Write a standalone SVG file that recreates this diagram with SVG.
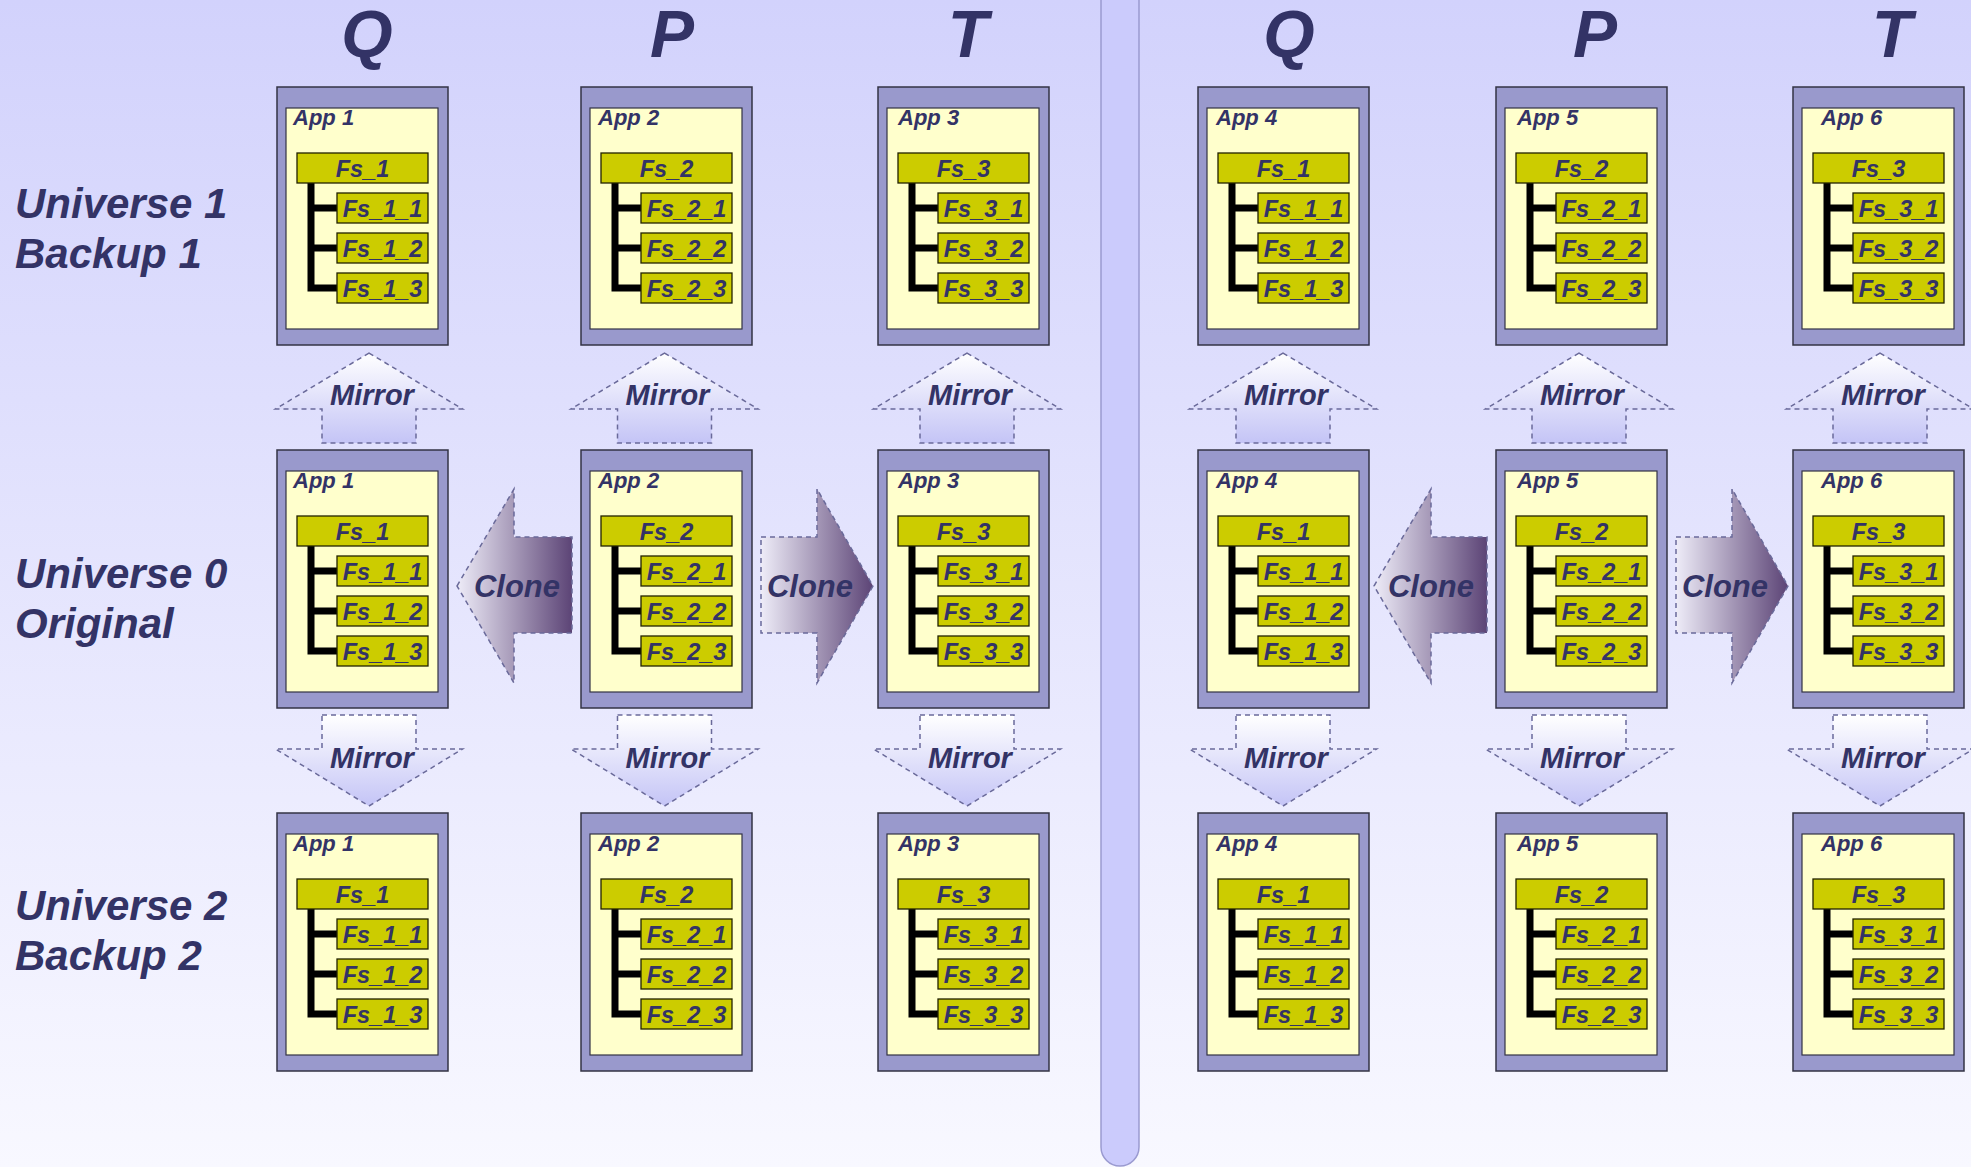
<svg xmlns="http://www.w3.org/2000/svg" width="1971" height="1167" viewBox="0 0 1971 1167">
<defs>
<linearGradient id="bg" x1="0" y1="0" x2="0" y2="1">
<stop offset="0" stop-color="#d2d2fc"/>
<stop offset="1" stop-color="#f8f8ff"/>
</linearGradient>
<linearGradient id="mir" x1="0" y1="0" x2="0" y2="1">
<stop offset="0" stop-color="#ffffff"/>
<stop offset="1" stop-color="#c4c4f6"/>
</linearGradient>
<linearGradient id="clo" x1="0" y1="0" x2="1" y2="0">
<stop offset="0" stop-color="#eeecf8"/>
<stop offset="1" stop-color="#5c4476"/>
</linearGradient>
<style>
text{font-family:"Liberation Sans",Arial,sans-serif;font-weight:bold;font-style:italic;fill:#333366}
.hd{font-size:66px;text-anchor:middle}
.rl{font-size:42px}
.ob{fill:#9999cc;stroke:#333344;stroke-width:1.5}
.ib{fill:#ffffcc;stroke:#333344;stroke-width:1.2}
.bar{fill:#cccc00;stroke:#222200;stroke-width:1.3}
.tree{fill:none;stroke:#000;stroke-width:7}
.app{font-size:22px}
.fs{font-size:23.5px;text-anchor:middle}
.arr{stroke:#6a6a9a;stroke-width:1.5;stroke-dasharray:5 4}
.m{fill:url(#mir)}
.c{fill:url(#clo)}
.mt{font-size:29px;text-anchor:middle}
.ct{font-size:31px;text-anchor:middle}
</style>
</defs>
<rect width="1971" height="1167" fill="url(#bg)"/>
<path d="M1101,-5V1147A19,19 0 0 0 1139,1147V-5Z" fill="#cbcbfc" stroke="#9a9ad0" stroke-width="1.5"/>
<g id="headers">
<text class="hd" x="367" y="57">Q</text>
<text class="hd" x="672" y="57">P</text>
<text class="hd" x="968" y="57">T</text>
<text class="hd" x="1289" y="57">Q</text>
<text class="hd" x="1595" y="57">P</text>
<text class="hd" x="1892" y="57">T</text>
</g>
<g id="row-labels">
<text class="rl" x="15" y="218">Universe 1</text>
<text class="rl" x="15" y="268">Backup 1</text>
<text class="rl" x="15" y="588">Universe 0</text>
<text class="rl" x="15" y="638">Original</text>
<text class="rl" x="15" y="920">Universe 2</text>
<text class="rl" x="15" y="970">Backup 2</text>
</g>
<g id="connectors">
<g class="arr m">
<path d="M369,353L462.5,409H416V443H322V409H275.5Z"/>
<path d="M664.5,353L758,409H711.5V443H617.5V409H571Z"/>
<path d="M967,353L1060.5,409H1014V443H920V409H873.5Z"/>
<path d="M1283,353L1376.5,409H1330V443H1236V409H1189.5Z"/>
<path d="M1579,353L1672.5,409H1626V443H1532V409H1485.5Z"/>
<path d="M1880,353L1973.5,409H1927V443H1833V409H1786.5Z"/>
<path d="M322,715H416V749H462.5L369,806L275.5,749H322Z"/>
<path d="M617.5,715H711.5V749H758L664.5,806L571,749H617.5Z"/>
<path d="M920,715H1014V749H1060.5L967,806L873.5,749H920Z"/>
<path d="M1236,715H1330V749H1376.5L1283,806L1189.5,749H1236Z"/>
<path d="M1532,715H1626V749H1672.5L1579,806L1485.5,749H1532Z"/>
<path d="M1833,715H1927V749H1973.5L1880,806L1786.5,749H1833Z"/>
</g>
<g class="arr c">
<path d="M457,586L514,489V537H572V633H514V683Z"/>
<path d="M761,537H817V489L873,586L817,683V633H761Z"/>
<path d="M1374,586L1431,489V537H1487V633H1431V683Z"/>
<path d="M1676,537H1732V489L1788,586L1732,683V633H1676Z"/>
</g>
<text class="mt" x="372" y="405">Mirror</text>
<text class="mt" x="667.5" y="405">Mirror</text>
<text class="mt" x="970" y="405">Mirror</text>
<text class="mt" x="1286" y="405">Mirror</text>
<text class="mt" x="1582" y="405">Mirror</text>
<text class="mt" x="1883" y="405">Mirror</text>
<text class="mt" x="372" y="768">Mirror</text>
<text class="mt" x="667.5" y="768">Mirror</text>
<text class="mt" x="970" y="768">Mirror</text>
<text class="mt" x="1286" y="768">Mirror</text>
<text class="mt" x="1582" y="768">Mirror</text>
<text class="mt" x="1883" y="768">Mirror</text>
<text class="ct" x="517" y="597">Clone</text>
<text class="ct" x="810" y="597">Clone</text>
<text class="ct" x="1431" y="597">Clone</text>
<text class="ct" x="1725" y="597">Clone</text>
</g>

<g id="app1-u1" transform="translate(277,87)">
<rect class="ob" width="171" height="258"/><rect class="ib" x="9" y="21" width="152" height="221"/>
<text class="app" x="16" y="38">App 1</text>
<path class="tree" d="M34,96V201H60M34,121H60M34,161H60"/>
<rect class="bar" x="20" y="66" width="131" height="30"/><rect class="bar" x="60" y="106" width="91" height="30"/><rect class="bar" x="60" y="146" width="91" height="30"/><rect class="bar" x="60" y="186" width="91" height="30"/>
<text class="fs" x="85.5" y="90">Fs_1</text><text class="fs" x="105.5" y="130">Fs_1_1</text><text class="fs" x="105.5" y="170">Fs_1_2</text><text class="fs" x="105.5" y="210">Fs_1_3</text>
</g>
<g id="app2-u1" transform="translate(581,87)">
<rect class="ob" width="171" height="258"/><rect class="ib" x="9" y="21" width="152" height="221"/>
<text class="app" x="17" y="38">App 2</text>
<path class="tree" d="M34,96V201H60M34,121H60M34,161H60"/>
<rect class="bar" x="20" y="66" width="131" height="30"/><rect class="bar" x="60" y="106" width="91" height="30"/><rect class="bar" x="60" y="146" width="91" height="30"/><rect class="bar" x="60" y="186" width="91" height="30"/>
<text class="fs" x="85.5" y="90">Fs_2</text><text class="fs" x="105.5" y="130">Fs_2_1</text><text class="fs" x="105.5" y="170">Fs_2_2</text><text class="fs" x="105.5" y="210">Fs_2_3</text>
</g>
<g id="app3-u1" transform="translate(878,87)">
<rect class="ob" width="171" height="258"/><rect class="ib" x="9" y="21" width="152" height="221"/>
<text class="app" x="20" y="38">App 3</text>
<path class="tree" d="M34,96V201H60M34,121H60M34,161H60"/>
<rect class="bar" x="20" y="66" width="131" height="30"/><rect class="bar" x="60" y="106" width="91" height="30"/><rect class="bar" x="60" y="146" width="91" height="30"/><rect class="bar" x="60" y="186" width="91" height="30"/>
<text class="fs" x="85.5" y="90">Fs_3</text><text class="fs" x="105.5" y="130">Fs_3_1</text><text class="fs" x="105.5" y="170">Fs_3_2</text><text class="fs" x="105.5" y="210">Fs_3_3</text>
</g>
<g id="app4-u1" transform="translate(1198,87)">
<rect class="ob" width="171" height="258"/><rect class="ib" x="9" y="21" width="152" height="221"/>
<text class="app" x="18" y="38">App 4</text>
<path class="tree" d="M34,96V201H60M34,121H60M34,161H60"/>
<rect class="bar" x="20" y="66" width="131" height="30"/><rect class="bar" x="60" y="106" width="91" height="30"/><rect class="bar" x="60" y="146" width="91" height="30"/><rect class="bar" x="60" y="186" width="91" height="30"/>
<text class="fs" x="85.5" y="90">Fs_1</text><text class="fs" x="105.5" y="130">Fs_1_1</text><text class="fs" x="105.5" y="170">Fs_1_2</text><text class="fs" x="105.5" y="210">Fs_1_3</text>
</g>
<g id="app5-u1" transform="translate(1496,87)">
<rect class="ob" width="171" height="258"/><rect class="ib" x="9" y="21" width="152" height="221"/>
<text class="app" x="21" y="38">App 5</text>
<path class="tree" d="M34,96V201H60M34,121H60M34,161H60"/>
<rect class="bar" x="20" y="66" width="131" height="30"/><rect class="bar" x="60" y="106" width="91" height="30"/><rect class="bar" x="60" y="146" width="91" height="30"/><rect class="bar" x="60" y="186" width="91" height="30"/>
<text class="fs" x="85.5" y="90">Fs_2</text><text class="fs" x="105.5" y="130">Fs_2_1</text><text class="fs" x="105.5" y="170">Fs_2_2</text><text class="fs" x="105.5" y="210">Fs_2_3</text>
</g>
<g id="app6-u1" transform="translate(1793,87)">
<rect class="ob" width="171" height="258"/><rect class="ib" x="9" y="21" width="152" height="221"/>
<text class="app" x="28" y="38">App 6</text>
<path class="tree" d="M34,96V201H60M34,121H60M34,161H60"/>
<rect class="bar" x="20" y="66" width="131" height="30"/><rect class="bar" x="60" y="106" width="91" height="30"/><rect class="bar" x="60" y="146" width="91" height="30"/><rect class="bar" x="60" y="186" width="91" height="30"/>
<text class="fs" x="85.5" y="90">Fs_3</text><text class="fs" x="105.5" y="130">Fs_3_1</text><text class="fs" x="105.5" y="170">Fs_3_2</text><text class="fs" x="105.5" y="210">Fs_3_3</text>
</g>

<g id="app1-u0" transform="translate(277,450)">
<rect class="ob" width="171" height="258"/><rect class="ib" x="9" y="21" width="152" height="221"/>
<text class="app" x="16" y="38">App 1</text>
<path class="tree" d="M34,96V201H60M34,121H60M34,161H60"/>
<rect class="bar" x="20" y="66" width="131" height="30"/><rect class="bar" x="60" y="106" width="91" height="30"/><rect class="bar" x="60" y="146" width="91" height="30"/><rect class="bar" x="60" y="186" width="91" height="30"/>
<text class="fs" x="85.5" y="90">Fs_1</text><text class="fs" x="105.5" y="130">Fs_1_1</text><text class="fs" x="105.5" y="170">Fs_1_2</text><text class="fs" x="105.5" y="210">Fs_1_3</text>
</g>
<g id="app2-u0" transform="translate(581,450)">
<rect class="ob" width="171" height="258"/><rect class="ib" x="9" y="21" width="152" height="221"/>
<text class="app" x="17" y="38">App 2</text>
<path class="tree" d="M34,96V201H60M34,121H60M34,161H60"/>
<rect class="bar" x="20" y="66" width="131" height="30"/><rect class="bar" x="60" y="106" width="91" height="30"/><rect class="bar" x="60" y="146" width="91" height="30"/><rect class="bar" x="60" y="186" width="91" height="30"/>
<text class="fs" x="85.5" y="90">Fs_2</text><text class="fs" x="105.5" y="130">Fs_2_1</text><text class="fs" x="105.5" y="170">Fs_2_2</text><text class="fs" x="105.5" y="210">Fs_2_3</text>
</g>
<g id="app3-u0" transform="translate(878,450)">
<rect class="ob" width="171" height="258"/><rect class="ib" x="9" y="21" width="152" height="221"/>
<text class="app" x="20" y="38">App 3</text>
<path class="tree" d="M34,96V201H60M34,121H60M34,161H60"/>
<rect class="bar" x="20" y="66" width="131" height="30"/><rect class="bar" x="60" y="106" width="91" height="30"/><rect class="bar" x="60" y="146" width="91" height="30"/><rect class="bar" x="60" y="186" width="91" height="30"/>
<text class="fs" x="85.5" y="90">Fs_3</text><text class="fs" x="105.5" y="130">Fs_3_1</text><text class="fs" x="105.5" y="170">Fs_3_2</text><text class="fs" x="105.5" y="210">Fs_3_3</text>
</g>
<g id="app4-u0" transform="translate(1198,450)">
<rect class="ob" width="171" height="258"/><rect class="ib" x="9" y="21" width="152" height="221"/>
<text class="app" x="18" y="38">App 4</text>
<path class="tree" d="M34,96V201H60M34,121H60M34,161H60"/>
<rect class="bar" x="20" y="66" width="131" height="30"/><rect class="bar" x="60" y="106" width="91" height="30"/><rect class="bar" x="60" y="146" width="91" height="30"/><rect class="bar" x="60" y="186" width="91" height="30"/>
<text class="fs" x="85.5" y="90">Fs_1</text><text class="fs" x="105.5" y="130">Fs_1_1</text><text class="fs" x="105.5" y="170">Fs_1_2</text><text class="fs" x="105.5" y="210">Fs_1_3</text>
</g>
<g id="app5-u0" transform="translate(1496,450)">
<rect class="ob" width="171" height="258"/><rect class="ib" x="9" y="21" width="152" height="221"/>
<text class="app" x="21" y="38">App 5</text>
<path class="tree" d="M34,96V201H60M34,121H60M34,161H60"/>
<rect class="bar" x="20" y="66" width="131" height="30"/><rect class="bar" x="60" y="106" width="91" height="30"/><rect class="bar" x="60" y="146" width="91" height="30"/><rect class="bar" x="60" y="186" width="91" height="30"/>
<text class="fs" x="85.5" y="90">Fs_2</text><text class="fs" x="105.5" y="130">Fs_2_1</text><text class="fs" x="105.5" y="170">Fs_2_2</text><text class="fs" x="105.5" y="210">Fs_2_3</text>
</g>
<g id="app6-u0" transform="translate(1793,450)">
<rect class="ob" width="171" height="258"/><rect class="ib" x="9" y="21" width="152" height="221"/>
<text class="app" x="28" y="38">App 6</text>
<path class="tree" d="M34,96V201H60M34,121H60M34,161H60"/>
<rect class="bar" x="20" y="66" width="131" height="30"/><rect class="bar" x="60" y="106" width="91" height="30"/><rect class="bar" x="60" y="146" width="91" height="30"/><rect class="bar" x="60" y="186" width="91" height="30"/>
<text class="fs" x="85.5" y="90">Fs_3</text><text class="fs" x="105.5" y="130">Fs_3_1</text><text class="fs" x="105.5" y="170">Fs_3_2</text><text class="fs" x="105.5" y="210">Fs_3_3</text>
</g>

<g id="app1-u2" transform="translate(277,813)">
<rect class="ob" width="171" height="258"/><rect class="ib" x="9" y="21" width="152" height="221"/>
<text class="app" x="16" y="38">App 1</text>
<path class="tree" d="M34,96V201H60M34,121H60M34,161H60"/>
<rect class="bar" x="20" y="66" width="131" height="30"/><rect class="bar" x="60" y="106" width="91" height="30"/><rect class="bar" x="60" y="146" width="91" height="30"/><rect class="bar" x="60" y="186" width="91" height="30"/>
<text class="fs" x="85.5" y="90">Fs_1</text><text class="fs" x="105.5" y="130">Fs_1_1</text><text class="fs" x="105.5" y="170">Fs_1_2</text><text class="fs" x="105.5" y="210">Fs_1_3</text>
</g>
<g id="app2-u2" transform="translate(581,813)">
<rect class="ob" width="171" height="258"/><rect class="ib" x="9" y="21" width="152" height="221"/>
<text class="app" x="17" y="38">App 2</text>
<path class="tree" d="M34,96V201H60M34,121H60M34,161H60"/>
<rect class="bar" x="20" y="66" width="131" height="30"/><rect class="bar" x="60" y="106" width="91" height="30"/><rect class="bar" x="60" y="146" width="91" height="30"/><rect class="bar" x="60" y="186" width="91" height="30"/>
<text class="fs" x="85.5" y="90">Fs_2</text><text class="fs" x="105.5" y="130">Fs_2_1</text><text class="fs" x="105.5" y="170">Fs_2_2</text><text class="fs" x="105.5" y="210">Fs_2_3</text>
</g>
<g id="app3-u2" transform="translate(878,813)">
<rect class="ob" width="171" height="258"/><rect class="ib" x="9" y="21" width="152" height="221"/>
<text class="app" x="20" y="38">App 3</text>
<path class="tree" d="M34,96V201H60M34,121H60M34,161H60"/>
<rect class="bar" x="20" y="66" width="131" height="30"/><rect class="bar" x="60" y="106" width="91" height="30"/><rect class="bar" x="60" y="146" width="91" height="30"/><rect class="bar" x="60" y="186" width="91" height="30"/>
<text class="fs" x="85.5" y="90">Fs_3</text><text class="fs" x="105.5" y="130">Fs_3_1</text><text class="fs" x="105.5" y="170">Fs_3_2</text><text class="fs" x="105.5" y="210">Fs_3_3</text>
</g>
<g id="app4-u2" transform="translate(1198,813)">
<rect class="ob" width="171" height="258"/><rect class="ib" x="9" y="21" width="152" height="221"/>
<text class="app" x="18" y="38">App 4</text>
<path class="tree" d="M34,96V201H60M34,121H60M34,161H60"/>
<rect class="bar" x="20" y="66" width="131" height="30"/><rect class="bar" x="60" y="106" width="91" height="30"/><rect class="bar" x="60" y="146" width="91" height="30"/><rect class="bar" x="60" y="186" width="91" height="30"/>
<text class="fs" x="85.5" y="90">Fs_1</text><text class="fs" x="105.5" y="130">Fs_1_1</text><text class="fs" x="105.5" y="170">Fs_1_2</text><text class="fs" x="105.5" y="210">Fs_1_3</text>
</g>
<g id="app5-u2" transform="translate(1496,813)">
<rect class="ob" width="171" height="258"/><rect class="ib" x="9" y="21" width="152" height="221"/>
<text class="app" x="21" y="38">App 5</text>
<path class="tree" d="M34,96V201H60M34,121H60M34,161H60"/>
<rect class="bar" x="20" y="66" width="131" height="30"/><rect class="bar" x="60" y="106" width="91" height="30"/><rect class="bar" x="60" y="146" width="91" height="30"/><rect class="bar" x="60" y="186" width="91" height="30"/>
<text class="fs" x="85.5" y="90">Fs_2</text><text class="fs" x="105.5" y="130">Fs_2_1</text><text class="fs" x="105.5" y="170">Fs_2_2</text><text class="fs" x="105.5" y="210">Fs_2_3</text>
</g>
<g id="app6-u2" transform="translate(1793,813)">
<rect class="ob" width="171" height="258"/><rect class="ib" x="9" y="21" width="152" height="221"/>
<text class="app" x="28" y="38">App 6</text>
<path class="tree" d="M34,96V201H60M34,121H60M34,161H60"/>
<rect class="bar" x="20" y="66" width="131" height="30"/><rect class="bar" x="60" y="106" width="91" height="30"/><rect class="bar" x="60" y="146" width="91" height="30"/><rect class="bar" x="60" y="186" width="91" height="30"/>
<text class="fs" x="85.5" y="90">Fs_3</text><text class="fs" x="105.5" y="130">Fs_3_1</text><text class="fs" x="105.5" y="170">Fs_3_2</text><text class="fs" x="105.5" y="210">Fs_3_3</text>
</g>
</svg>
